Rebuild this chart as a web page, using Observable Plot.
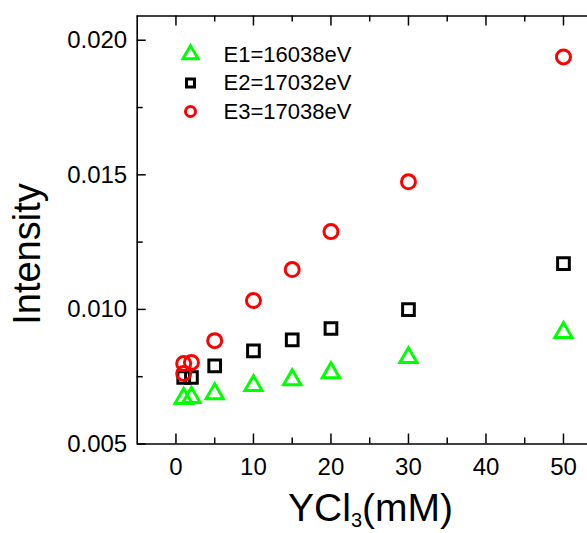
<!DOCTYPE html>
<html><head><meta charset="utf-8">
<script src="https://cdn.jsdelivr.net/npm/d3@7"></script>
<script src="https://cdn.jsdelivr.net/npm/@observablehq/plot@0.6"></script>
<style>body{margin:0;background:#fff;} svg{display:block;}</style>
</head><body><div id="chart"></div>
<script>
// ---- data ----
const seriesNames = ["E1=16038eV", "E2=17032eV", "E3=17038eV"];
const seriesColors = ["#00ff00", "#000000", "#ff0000"];
const seriesSymbols = ["triangle", "square", "circle"];
const xE1 = [1, 2, 5, 10, 15, 20, 30, 50];
const yE1 = [0.00669, 0.00673, 0.00687, 0.00717, 0.00739, 0.00765, 0.00821, 0.00914];
const xE2 = [1, 2, 5, 10, 15, 20, 30, 50];
const yE2 = [0.00747, 0.00747, 0.00790, 0.00846, 0.00887, 0.00929, 0.00999, 0.01170];
const xE3 = [1, 1, 2, 5, 10, 15, 20, 30, 50];
const yE3 = [0.00799, 0.00762, 0.00803, 0.00884, 0.01033, 0.01148, 0.01289, 0.01474, 0.01938];
const xMajor = [0, 10, 20, 30, 40, 50];
const xMinor = [5, 15, 25, 35, 45];
const yMajor = [0.005, 0.010, 0.015, 0.020];
const yMinor = [0.0075, 0.0125, 0.0175];
const xDomain = [-5, 53.1];
const yDomain = [0.005, 0.0209];
const xTitle = "YCl3(mM)";
const yTitle = "Intensity";

// ---- layout ----
const W = 587, H = 533, ML = 136.7, MT = 15.5, MB = 89.5, MR = 0;
const frameH = H - MT - MB, frameW = W - ML - MR;
const font = "Liberation Sans, Arial, sans-serif";

const series = [
  {x: xE1, y: yE1}, {x: xE2, y: yE2}, {x: xE3, y: yE3}
].map((s, i) => s.x.map((x, j) => ({x, y: s.y[j], name: seriesNames[i]})));

const dataMarks = [];
const rSizes = [6.4, 6.6, 7];
series.forEach((rows, i) => {
  dataMarks.push(Plot.dot(rows, {x: "x", y: "y", symbol: () => seriesSymbols[i], r: rSizes[i],
    stroke: seriesColors[i], strokeWidth: 3, fill: "none"}));
});

const legendRowsY = [54, 82.5, 111];
const legendR = [5.6, 4.5, 5];
const legendMarks = [];
seriesNames.forEach((name, i) => {
  legendMarks.push(Plot.dot([name], {frameAnchor: "top-left", symbol: () => seriesSymbols[i], r: legendR[i],
    stroke: seriesColors[i], strokeWidth: 3, fill: "none", dx: 190 - ML, dy: legendRowsY[i] - MT}));
  legendMarks.push(Plot.text([name], {frameAnchor: "top-left", textAnchor: "start", lineAnchor: "middle",
    fontSize: 22, fill: "black", dx: 223 - ML, dy: legendRowsY[i] - MT}));
});

const chart = Plot.plot({
  width: W, height: H,
  marginLeft: ML, marginTop: MT, marginBottom: MB, marginRight: MR,
  style: {fontFamily: font, background: "#fff", color: "#000", overflow: "visible"},
  x: {domain: xDomain},
  y: {domain: yDomain},
  marks: [
    Plot.axisX({ticks: xMajor, tickSize: 0, tickPadding: 14, fontSize: 24, tickFormat: d => String(d), label: null}),
    Plot.axisY({ticks: yMajor, tickSize: 0, tickPadding: 10, fontSize: 24, tickFormat: d3.format(".3f"), label: null}),
    // frame lines
    Plot.ruleY([yDomain[0], yDomain[1]], {y: d => d, stroke: "black", strokeWidth: 1.6}),
    Plot.ruleX([xDomain[0]], {x: d => d, stroke: "black", strokeWidth: 1.6}),
    // inward ticks
    Plot.tickX(xMajor, {x: d => d, insetTop: frameH - 10, stroke: "black", strokeWidth: 1.5}),
    Plot.tickX(xMinor, {x: d => d, insetTop: frameH - 6, stroke: "black", strokeWidth: 1.5}),
    Plot.tickX(xMajor, {x: d => d, insetBottom: frameH - 10, stroke: "black", strokeWidth: 1.5}),
    Plot.tickX(xMinor, {x: d => d, insetBottom: frameH - 6, stroke: "black", strokeWidth: 1.5}),
    Plot.tickY(yMajor, {y: d => d, insetRight: frameW - 9, stroke: "black", strokeWidth: 1.5}),
    Plot.tickY(yMinor, {y: d => d, insetRight: frameW - 6, stroke: "black", strokeWidth: 1.5}),
    ...dataMarks,
    ...legendMarks,
    Plot.text([yTitle], {frameAnchor: "left", rotate: -90, textAnchor: "middle", lineAnchor: "middle",
      fontSize: 38, fill: "black", dx: 27.5 - ML, dy: 253.5 - (MT + frameH / 2)}),
    Plot.text([xTitle], {frameAnchor: "bottom", textAnchor: "middle", lineAnchor: "middle",
      fontSize: 39, fill: "black", dx: 370 - (ML + frameW / 2), dy: 65, className: "xtitle"})
  ]
});
document.getElementById("chart").append(chart);

// subscript for YCl3
d3.select(chart).selectAll(".xtitle text").each(function() {
  const t = d3.select(this);
  t.text(null);
  t.append("tspan").text("YCl");
  t.append("tspan").text("3").attr("font-size", 20).attr("dy", 6);
  t.append("tspan").text("(mM)").attr("dy", -6);
});
</script>
</body></html>
